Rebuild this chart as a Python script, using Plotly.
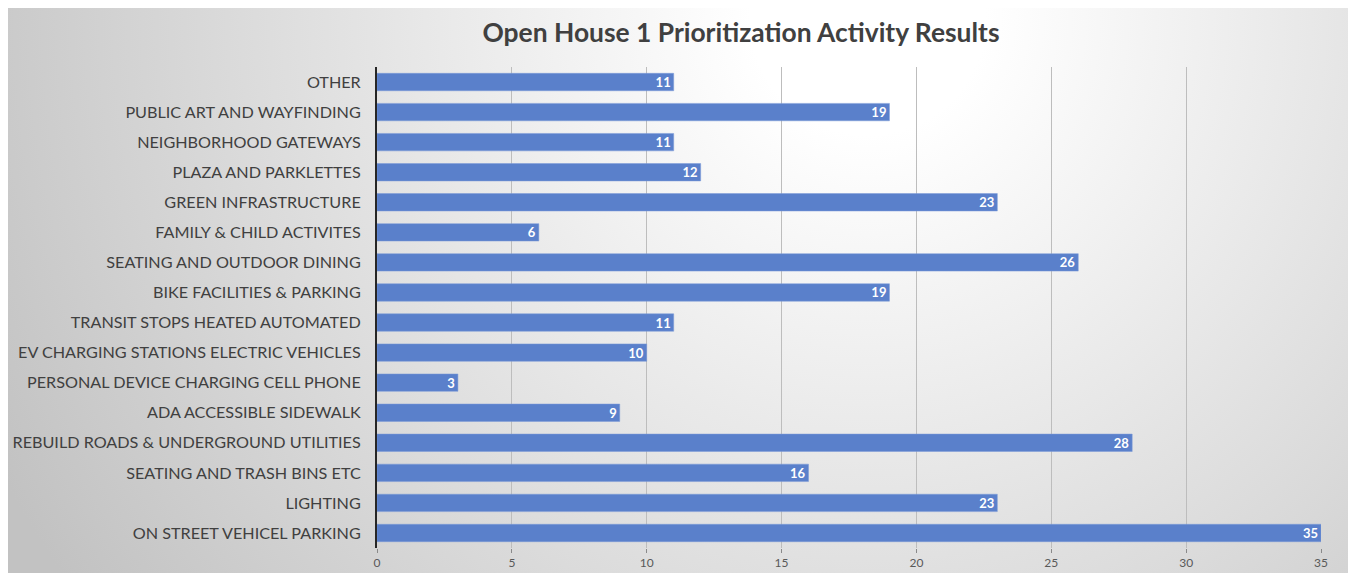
import base64
import plotly.graph_objects as go

categories = [
    "OTHER",
    "PUBLIC ART AND WAYFINDING",
    "NEIGHBORHOOD GATEWAYS",
    "PLAZA AND PARKLETTES",
    "GREEN INFRASTRUCTURE",
    "FAMILY & CHILD ACTIVITES",
    "SEATING AND OUTDOOR DINING",
    "BIKE FACILITIES & PARKING",
    "TRANSIT STOPS HEATED AUTOMATED",
    "EV CHARGING STATIONS ELECTRIC VEHICLES",
    "PERSONAL DEVICE CHARGING CELL PHONE",
    "ADA ACCESSIBLE SIDEWALK",
    "REBUILD ROADS & UNDERGROUND UTILITIES",
    "SEATING AND TRASH BINS ETC",
    "LIGHTING",
    "ON STREET VEHICEL PARKING",
]
values = [11, 19, 11, 12, 23, 6, 26, 19, 11, 10, 3, 9, 28, 16, 23, 35]
x_ticks = [0, 5, 10, 15, 20, 25, 30, 35]
title_text = "Open House 1 Prioritization Activity Results"

# page has an 8px body margin; figure placed at (8, 8)
OFF = 8
W, H = 1348, 565
ml = 377 - OFF
mt = 67 - OFF
mr = W - (1321 - OFF)
mb = H - (548 - OFF)
pw, ph = W - ml - mr, H - mt - mb

# background radial gradient as SVG
bw, bh = 1344, 566
svg = f'''<svg xmlns="http://www.w3.org/2000/svg" width="{bw}" height="{bh}" viewBox="0 0 {bw} {bh}" preserveAspectRatio="none">
<defs><radialGradient id="g" gradientUnits="userSpaceOnUse" cx="860" cy="10" r="980">
<stop offset="0" stop-color="#ffffff"/><stop offset="0.12" stop-color="#ffffff"/>
<stop offset="1" stop-color="#c2c2c2"/></radialGradient></defs>
<rect x="0" y="0" width="{bw}" height="{bh}" fill="url(#g)"/></svg>'''
src = "data:image/svg+xml;base64," + base64.b64encode(svg.encode()).decode()

img_x0 = (0 - ml) / pw
img_y0 = (H - mb + 1) / ph
img_sx = bw / pw
img_sy = bh / ph

font_fam = "Lato, 'Open Sans', sans-serif"

fig = go.Figure(
    go.Bar(
        x=values,
        y=categories,
        orientation="h",
        marker=dict(color="#5A80CB", line=dict(color="#7D9BD8", width=0.5)),
        text=[str(v) for v in values],
        textposition="inside",
        insidetextanchor="end",
        textangle=0,
        constraintext="none",
        textfont=dict(color="white", size=13, family=font_fam, weight="bold"),
        cliponaxis=False,
    )
)

fig.update_layout(
    width=W,
    height=H,
    margin=dict(l=ml, r=mr, t=mt, b=mb, autoexpand=False),
    paper_bgcolor="white",
    plot_bgcolor="rgba(0,0,0,0)",
    bargap=0.42,
    showlegend=False,
    title=dict(
        text=f"<b>{title_text}</b>",
        x=(741 - OFF) / W,
        xanchor="center",
        y=1 - (33 - OFF) / H,
        yanchor="middle",
        xref="container",
        yref="container",
        font=dict(size=26.4, color="#404040", family=font_fam),
    ),
    images=[
        dict(
            source=src,
            xref="paper",
            yref="paper",
            x=img_x0,
            y=img_y0,
            sizex=img_sx,
            sizey=img_sy,
            xanchor="left",
            yanchor="top",
            sizing="stretch",
            layer="below",
        )
    ],
    xaxis=dict(
        range=[0, 35],
        tickvals=x_ticks,
        automargin=False,
        showgrid=True,
        gridcolor="#bdbdbd",
        gridwidth=1,
        zeroline=False,
        showline=False,
        ticks="outside",
        ticklen=4,
        tickcolor="#8a8a8a",
        tickfont=dict(size=12, color="#595959", family=font_fam),
    ),
    yaxis=dict(
        categoryorder="array",
        categoryarray=categories,
        autorange="reversed",
        automargin=False,
        showline=True,
        linecolor="#262626",
        linewidth=2,
        showgrid=False,
        ticks="",
        ticklabelstandoff=11,
        tickfont=dict(size=16.2, color="#404040", family=font_fam),
    ),
)

fig.write_html("out.html")
